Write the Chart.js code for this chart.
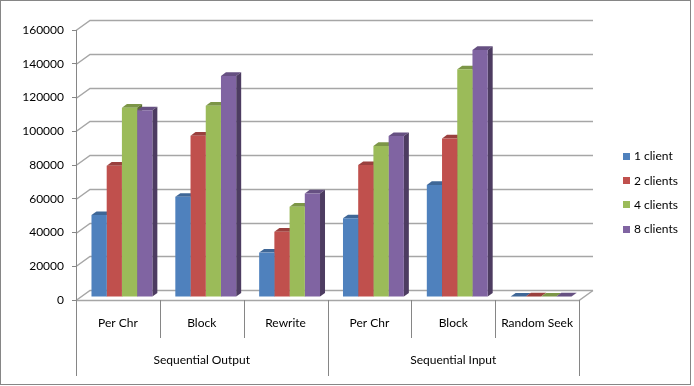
<!DOCTYPE html>
<html>
<head>
<meta charset="utf-8">
<script src="https://cdn.jsdelivr.net/npm/chart.js@4.4.1/dist/chart.umd.min.js"></script>
<style>
  html, body { margin: 0; padding: 0; background: #fff; }
</style>
</head>
<body>
<canvas id="chart" width="694" height="386"></canvas>
<script>
const categories = ["Per Chr", "Block", "Rewrite", "Per Chr", "Block", "Random Seek"];
const groupNames = ["Sequential Output", "Sequential Input"];
const groupSizes = [3, 3];
const seriesNames = ["1 client", "2 clients", "4 clients", "8 clients"];
const client1 = [48600, 59400, 26300, 46600, 66400, 300];
const clients2 = [77800, 95600, 38700, 78200, 94000, 320];
const clients4 = [112200, 113400, 53500, 89500, 134900, 310];
const clients8 = [110600, 131000, 61400, 95400, 146400, 330];
const yTicks = [0, 20000, 40000, 60000, 80000, 100000, 120000, 140000, 160000];
const colors = ["#4f81bd", "#c0504d", "#9bbb59", "#8064a2"];

const FONT = "Lato, 'Open Sans', sans-serif";
const LINE = "#a6a6a6";
const AXIS = "#868686";
const DX = 14, DY = 10;   // depth of walls / floor
const BX = 4, BY = 3;     // bar front face sits a bit back
const SX = 5, SY = 3.6;   // bar depth

function shade(hex, f) {
  const n = parseInt(hex.slice(1), 16);
  const r = Math.round(((n >> 16) & 255) * f);
  const g = Math.round(((n >> 8) & 255) * f);
  const b = Math.round((n & 255) * f);
  return `rgb(${r},${g},${b})`;
}

const frame3d = {
  id: "frame3d",
  afterDatasetsUpdate(chart) {
    chart.data.datasets.forEach((ds, i) => {
      chart.getDatasetMeta(i).data.forEach((bar) => {
        bar.x += BX;
        bar.y -= BY;
        bar.base -= BY;
      });
    });
  },
  beforeDatasetsDraw(chart) {
    const { ctx, chartArea: a, scales } = chart;
    const y = scales.y;
    ctx.save();
    ctx.strokeStyle = LINE;
    ctx.lineWidth = 1.5;
    // back wall grid + side wall diagonals
    yTicks.forEach((v) => {
      const py = Math.round(y.getPixelForValue(v)) + 0.5;
      ctx.beginPath();
      ctx.moveTo(a.left, py);
      ctx.lineTo(a.left + DX, py - DY);
      ctx.lineTo(a.right + DX, py - DY);
      ctx.stroke();
    });
    // floor front edge and right edge
    const fy = Math.round(y.getPixelForValue(0)) + 0.5;
    ctx.beginPath();
    ctx.moveTo(a.left, fy);
    ctx.lineTo(a.right, fy);
    ctx.lineTo(a.right + DX, fy - DY);
    ctx.stroke();

    // bar tops and sides (fronts are drawn by Chart.js on top)
    chart.data.datasets.forEach((ds, i) => {
      chart.getDatasetMeta(i).data.forEach((bar) => {
        const l = bar.x - bar.width / 2, r = bar.x + bar.width / 2;
        const t = bar.y, b = bar.base;
        ctx.fillStyle = shade(ds.backgroundColor, 0.8);
        ctx.beginPath();
        ctx.moveTo(l, t);
        ctx.lineTo(l + SX, t - SY);
        ctx.lineTo(r + SX, t - SY);
        ctx.lineTo(r, t);
        ctx.closePath();
        ctx.fill();
        ctx.fillStyle = shade(ds.backgroundColor, 0.6);
        ctx.beginPath();
        ctx.moveTo(r, t);
        ctx.lineTo(r + SX, t - SY);
        ctx.lineTo(r + SX, b - SY);
        ctx.lineTo(r, b);
        ctx.closePath();
        ctx.fill();
      });
    });
    ctx.restore();
  },
  afterDraw(chart) {
    const { ctx, chartArea: a, scales } = chart;
    const x = scales.x;
    const step = (a.right - a.left) / categories.length;
    ctx.save();
    ctx.strokeStyle = AXIS;
    ctx.lineWidth = 1;
    // outer border
    ctx.strokeRect(0.5, 0.5, 690, 384);
    // value axis line, down through the label rows
    ctx.beginPath();
    ctx.moveTo(a.left + 0.5, a.top);
    ctx.lineTo(a.left + 0.5, a.bottom + 76);
    ctx.stroke();
    // category separators
    let idx = 0;
    const groupEnds = [];
    groupSizes.forEach((n) => { idx += n; groupEnds.push(idx); });
    for (let i = 1; i <= categories.length; i++) {
      const px = Math.round(a.left + step * i) + 0.5;
      const long = groupEnds.includes(i);
      ctx.beginPath();
      ctx.moveTo(px, a.bottom);
      ctx.lineTo(px, a.bottom + (long ? 76 : 38));
      ctx.stroke();
    }
    // group labels
    ctx.fillStyle = "#000";
    ctx.font = "12px " + FONT;
    ctx.textAlign = "center";
    ctx.textBaseline = "middle";
    let start = 0;
    groupNames.forEach((g, gi) => {
      const s = x.getPixelForValue(start) - step / 2;
      const e = x.getPixelForValue(start + groupSizes[gi] - 1) + step / 2;
      ctx.fillText(g, (s + e) / 2, a.bottom + 60);
      start += groupSizes[gi];
    });
    // legend
    ctx.textAlign = "left";
    chart.data.datasets.forEach((ds, i) => {
      const cy = 156.5 + i * 24.2;
      ctx.fillStyle = ds.backgroundColor;
      ctx.fillRect(623, Math.round(cy - 3.5), 7, 7);
      ctx.fillStyle = "#000";
      ctx.fillText(ds.label, 634, cy);
    });
    ctx.restore();
  },
};

const seriesData = [client1, clients2, clients4, clients8];

new Chart(document.getElementById("chart").getContext("2d"), {
  type: "bar",
  data: {
    labels: categories,
    datasets: seriesNames.map((name, i) => ({
      label: name,
      data: seriesData[i],
      backgroundColor: colors[i],
      borderWidth: 0,
      categoryPercentage: 0.726,
      barPercentage: 1,
    })),
  },
  options: {
    responsive: false,
    animation: false,
    layout: { padding: { top: 30, right: 115, bottom: 10, left: 0 } },
    plugins: { legend: { display: false }, tooltip: { enabled: false } },
    scales: {
      x: {
        grid: { display: false, drawTicks: false },
        border: { display: false },
        ticks: { color: "#000", font: { family: FONT, size: 12 }, padding: 16, maxRotation: 0, autoSkip: false },
        afterFit(scale) { scale.height = 76; },
      },
      y: {
        min: 0,
        max: 160000,
        afterBuildTicks(scale) { scale.ticks = yTicks.map((v) => ({ value: v })); },
        grid: { drawOnChartArea: false, tickLength: 4, color: AXIS },
        border: { display: false },
        ticks: {
          color: "#000",
          font: { family: FONT, size: 12 },
          padding: 8,
          callback: (value) => String(value),
        },
        afterFit(scale) { scale.width = 76; },
      },
    },
  },
  plugins: [frame3d],
});
</script>
</body>
</html>
